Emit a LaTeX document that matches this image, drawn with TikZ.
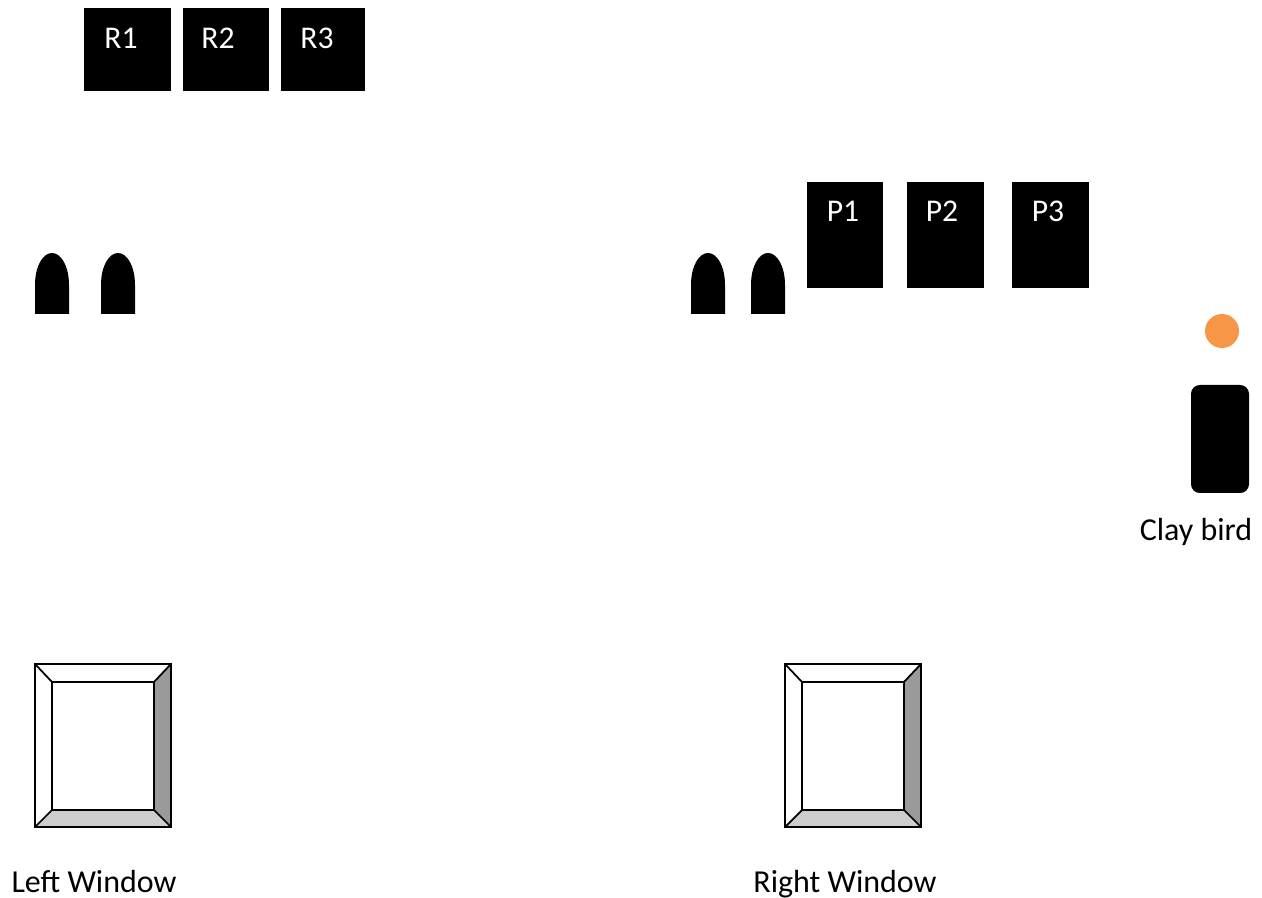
\documentclass[tikz,border=0pt]{standalone}
\usepackage{fontspec}
\setmainfont{Carlito}
\definecolor{birdorange}{HTML}{F79646}
\definecolor{bevelright}{HTML}{9A9A9A}
\definecolor{bevelbottom}{HTML}{CDCDCD}
\tikzset{
  blackbox/.style={fill=black,draw=none,inner sep=0pt,outer sep=0pt},
  boxlabel/.style={text=white,font=\fontsize{18pt}{21pt}\selectfont,inner sep=0pt,anchor=base},
  caption/.style={text=black,font=\fontsize{18.2pt}{21pt}\selectfont,inner sep=0pt,anchor=base},
  frameline/.style={draw=black,line width=1pt,line join=miter}
}
\begin{document}
\begin{tikzpicture}[x=0.02cm,y=-0.02cm]

% ---------- Bildgroesse wie Vorlage ----------
\useasboundingbox (0,0) rectangle (1262,898);

% ===================
% oben: R-Boxen
% ===================
\foreach \xa/\xb/\xl/\name in {84/171/121/R1,183/269/218/R2,281/365/317/R3}{
  \fill[blackbox] (\xa,8) rectangle (\xb,91);
  \node[boxlabel] (label\name) at (\xl,49) {\name};
}

% ===================
% rechts: P-Boxen
% ===================
\foreach \xa/\xb/\xl/\name in {807/883/843/P1,907/984/942/P2,1012/1089/1048/P3}{
  \fill[blackbox] (\xa,182) rectangle (\xb,288);
  \node[boxlabel] (label\name) at (\xl,222) {\name};
}

% Geschosse
\foreach \xa in {35,101,691,751}{
  \fill[black] (\xa,314) -- (\xa,285)
    .. controls (\xa,266) and (\xa+8,253) .. (\xa+17,253)
    .. controls (\xa+26,253) and (\xa+34,266) .. (\xa+34,285)
    -- (\xa+34,314) -- cycle;
}

% Clay bird
\fill[birdorange] (1222,331) circle (17);
\fill[black,rounded corners=5pt] (1191,385) rectangle (1249,493);
\node[caption] (birdlabel) at (1196,541) {Clay bird};

% ===================
% unten: Fenster
% ===================
\foreach \xa/\xl/\name in {35/94/Left Window,785/845/Right Window}{
  \begin{scope}[shift={(\xa,0)}]
    \fill[white] (0,664) rectangle (136,827);
    \fill[bevelright] (136,664) -- (119,682) -- (119,810) -- (136,827) -- cycle;
    \fill[bevelbottom] (0,827) -- (17,810) -- (119,810) -- (136,827) -- cycle;
    \draw[frameline] (0,664) rectangle (136,827);
    \draw[frameline] (17,682) rectangle (119,810);
    \draw[frameline] (0,664) -- (17,682);
    \draw[frameline] (136,664) -- (119,682);
    \draw[frameline] (0,827) -- (17,810);
    \draw[frameline] (136,827) -- (119,810);
  \end{scope}
  \node[caption] (label\xa) at (\xl,892) {\name};
}

\end{tikzpicture}
\end{document}
